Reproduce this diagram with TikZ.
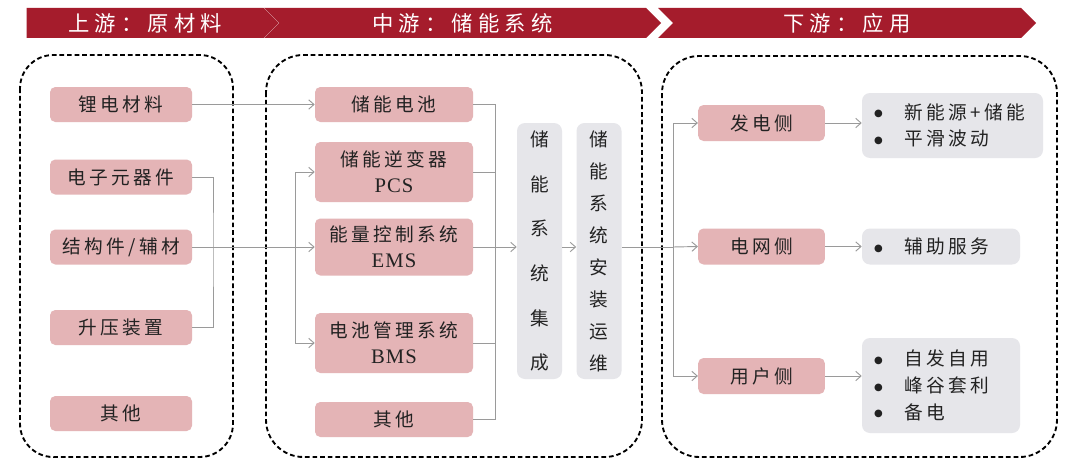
\documentclass[tikz,border=0pt]{standalone}
\usepackage{fontspec}
\usetikzlibrary{shapes.symbols, arrows.meta, positioning, calc}
\setmainfont{Liberation Serif}
\newfontfamily\cjk{Noto Sans CJK SC}[LetterSpace=18]
\newfontfamily\cjkhead{Noto Sans CJK SC}[LetterSpace=24]
\newfontfamily\tnr{Liberation Serif}[LetterSpace=5]
\newfontfamily\symb{DejaVu Sans}
\definecolor{headred}{HTML}{A51C2C}
\definecolor{pinkbox}{HTML}{E4B4B6}
\definecolor{greybox}{HTML}{E6E6EA}
\definecolor{linkgrey}{HTML}{9A9A9A}
\definecolor{textdark}{HTML}{222222}
\newcommand{\abbr}[1]{{\tnr\fontsize{15.5}{19.5}\selectfont #1}}
\newcommand{\bul}{\makebox[23pt][l]{\raisebox{1.8pt}{\symb\fontsize{7.5}{8}\selectfont ●}}}

\tikzset{
  headbar/.style={shape=signal, signal to=east, signal pointer angle=90, fill=headred,
    text=white, minimum height=22.5pt, inner sep=0pt, font=\cjkhead\fontsize{16}{16}\selectfont},
  groupbox/.style={draw=black, line width=1.4pt, dash pattern=on 3.5pt off 2.2pt, rounded corners=28pt},
  pinknode/.style={fill=pinkbox, rounded corners=4pt, inner sep=0pt, text=textdark,
    align=center, minimum height=26.25pt, font=\cjk\fontsize{14}{19.5}\selectfont},
  greynode/.style={fill=greybox, rounded corners=6pt, inner sep=0pt, text=textdark,
    font=\cjk\fontsize{14}{20}\selectfont},
  link/.style={draw=linkgrey, line width=0.7pt},
  linkarrow/.style={link, -{Straight Barb[length=4pt, width=7pt]}},
}

\begin{document}
\begin{tikzpicture}[x=0.75pt, y=-0.75pt]
  \useasboundingbox[fill=white] (0,0) rectangle (1080,467);

  % header chevrons
  \node[headbar, minimum width=189pt] (up) at (145,23) {上游：原材料};
  \node[headbar, signal from=west, minimum width=297.75pt] (mid) at (462.5,23) {中游：储能系统};
  \node[headbar, signal from=west, minimum width=283.5pt] (down) at (847,23) {下游：应用};

  % dashed groups
  \draw[groupbox, rounded corners=25pt] (20,55) rectangle (233,457);
  \draw[groupbox] (266,55) rectangle (642,457);
  \draw[groupbox] (662,56) rectangle (1057,457);

  % upstream materials
  \begin{scope}[every node/.style={pinknode, minimum width=106.5pt}]
    \node (li) at (121,104.5) {锂电材料};
    \node (elec) at (121,177) {电子元器件};
    \node (struct) at (121,247) {结构件/辅材};
    \node (boost) at (121,327.5) {升压装置};
    \node (upother) at (121,413.5) {其他};
  \end{scope}

  % midstream parts
  \begin{scope}[every node/.style={pinknode, minimum width=118.5pt}]
    \node (bat) at (394,104.5) {储能电池};
    \node[minimum height=45pt] (pcs) at (394,172) {储能逆变器\\\abbr{PCS}};
    \node[minimum height=42.75pt] (ems) at (394,247) {能量控制系统\\\abbr{EMS}};
    \node[minimum height=45pt] (bms) at (394,343) {电池管理系统\\\abbr{BMS}};
    \node (midother) at (394,419.5) {其他};
  \end{scope}
  \node[greynode, minimum width=33.75pt, minimum height=192pt, align=center,
        font=\cjk\fontsize{14}{33.5}\selectfont] (integ) at (539.5,251) {储\\能\\系\\统\\集\\成};
  \node[greynode, minimum width=33.75pt, minimum height=192pt, align=center,
        font=\cjk\fontsize{14}{24}\selectfont] (oper) at (599,251) {储\\能\\系\\统\\安\\装\\运\\维};

  % downstream uses
  \begin{scope}[every node/.style={pinknode, minimum width=95pt, minimum height=27pt}]
    \node (gen) at (761.5,123) {发电侧};
    \node (grid) at (761.5,246.5) {电网侧};
    \node (user) at (761.5,376) {用户侧};
  \end{scope}
  \node[greynode, minimum width=135.75pt, minimum height=48.75pt, text width=117.75pt, align=left]
    (genlist) at (952.5,125.5) {\bul 新能源+储能\\\bul 平滑波动};
  \node[greynode, minimum width=118.5pt, minimum height=27pt, text width=100.5pt, align=left]
    (gridlist) at (941,246.5) {\bul 辅助服务};
  \node[greynode, minimum width=118.5pt, minimum height=71.25pt, text width=100.5pt, align=left]
    (userlist) at (941,385.5) {\bul 自发自用\\\bul 峰谷套利\\\bul 备电};

  % connectors
  \coordinate (lmerge) at (213,247);
  \coordinate (msplit) at (295,247);
  \coordinate (mjoin) at (495,247);
  \coordinate (rsplit) at (673,247);

  \draw[linkarrow] (li.east) -- (li.east -| bat.west);
  \draw[link] (elec.east) -| (lmerge) |- (boost.east);
  \draw[linkarrow] (struct.east) -- (ems.west);
  \draw[linkarrow] (msplit) |- (pcs.west);
  \draw[linkarrow] (msplit) |- (bms.west);

  \foreach \part in {bat, pcs, bms, midother}
    \draw[link] (\part.east) -| (mjoin);
  \draw[linkarrow] (ems.east) -- (ems.east -| integ.west);
  \draw[linkarrow] (integ.east |- mjoin) -- (oper.west |- mjoin);
  \draw[link] (oper.east |- rsplit) -- (rsplit);

  \draw[linkarrow] (rsplit) |- (gen.west);
  \draw[linkarrow] (rsplit) -- (grid.west);
  \draw[linkarrow] (rsplit) |- (user.west);
  \draw[linkarrow] (gen.east) -- (gen.east -| genlist.west);
  \draw[linkarrow] (grid.east) -- (gridlist.west);
  \draw[linkarrow] (user.east) -- (user.east -| userlist.west);
\end{tikzpicture}
\end{document}
